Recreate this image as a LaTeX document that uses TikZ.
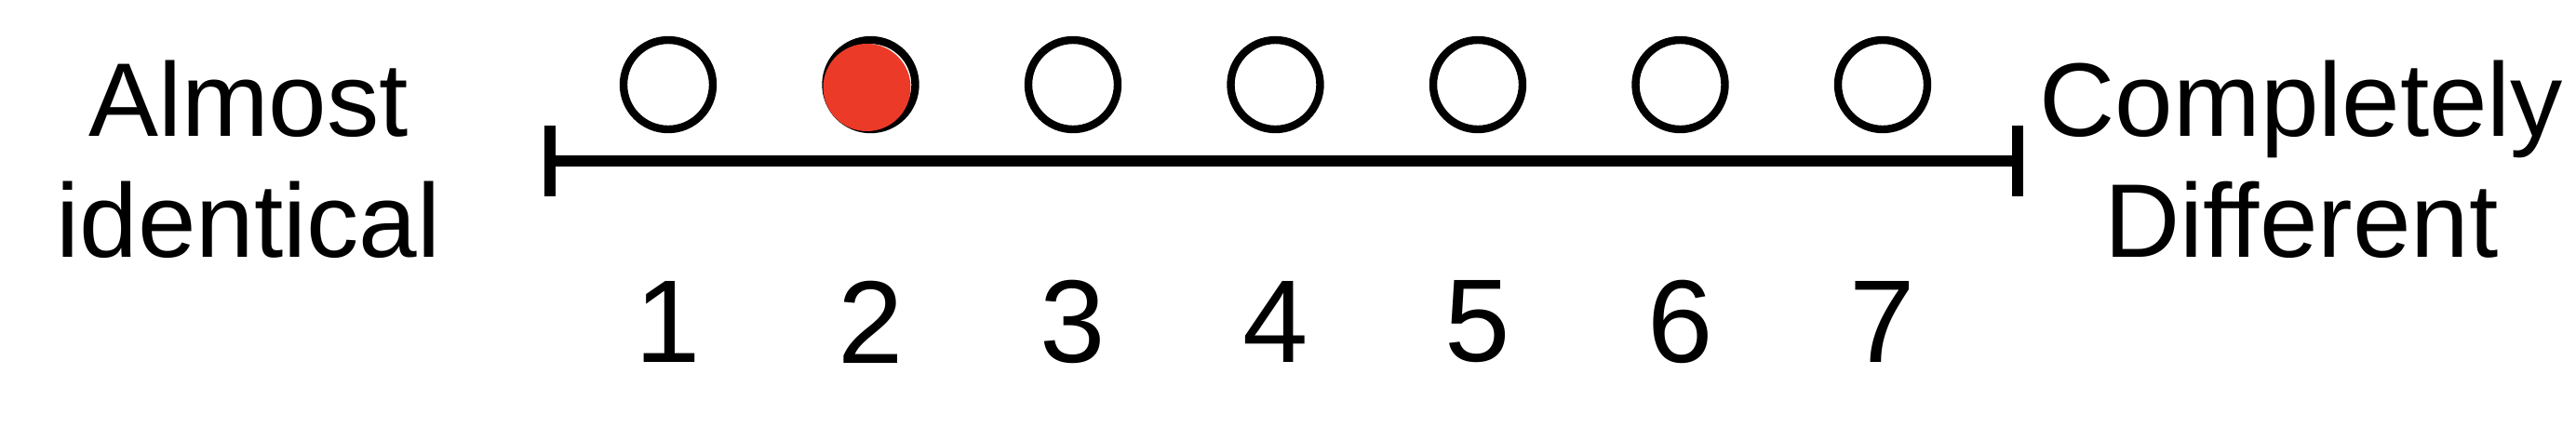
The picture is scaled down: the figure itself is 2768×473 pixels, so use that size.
\documentclass[tikz,border=0pt]{standalone}
\usepackage{fontspec}
\setmainfont{Liberation Sans}
\usetikzlibrary{positioning}

\definecolor{pickred}{RGB}{236,58,40}

\begin{document}
\begin{tikzpicture}[x=0.05mm, y=0.05mm,
      option/.style={circle, draw=black, line width=0.42mm, minimum size=4.8mm, inner sep=0pt},
      numlab/.style={font=\fontsize{18}{20}\selectfont, inner sep=0pt},
      endlab/.style={align=center, font=\fontsize{16}{18.5}\selectfont, inner sep=0pt},
      scaleline/.style={line width=0.6mm, draw=black}
    ]

      \useasboundingbox (0,0) rectangle (2768,473);

      % End points of the scale
      \coordinate (lend) at (591, 300);
      \coordinate (rend) at (2168, 300);

      % Scale line with end ticks
      \draw[scaleline] (lend) -- (rend);
      \draw[scaleline] ([yshift=-1.9mm]lend) -- ([yshift=1.9mm]lend);
      \draw[scaleline] ([yshift=-1.9mm]rend) -- ([yshift=1.9mm]rend);

      % Answer circles and their numbers
      \foreach \i in {1,...,7} {
        \pgfmathsetmacro{\xpos}{718 + (\i-1)*217.5}
        \node[option] (opt\i) at (\xpos, 382) {};
        \node[numlab] (num\i) at ([yshift=-12.75mm]opt\i.center) {\i};
      }

      % Chosen answer
      \fill[pickred] ([shift={(-4,-3)}]opt2.center) circle (47);

      % End labels
      \node[endlab] (lowlab) at (267, 302) {Almost\\identical};
      \node[endlab] (highlab) at (2473, 302) {Completely\\Different};

    \end{tikzpicture}
\end{document}
